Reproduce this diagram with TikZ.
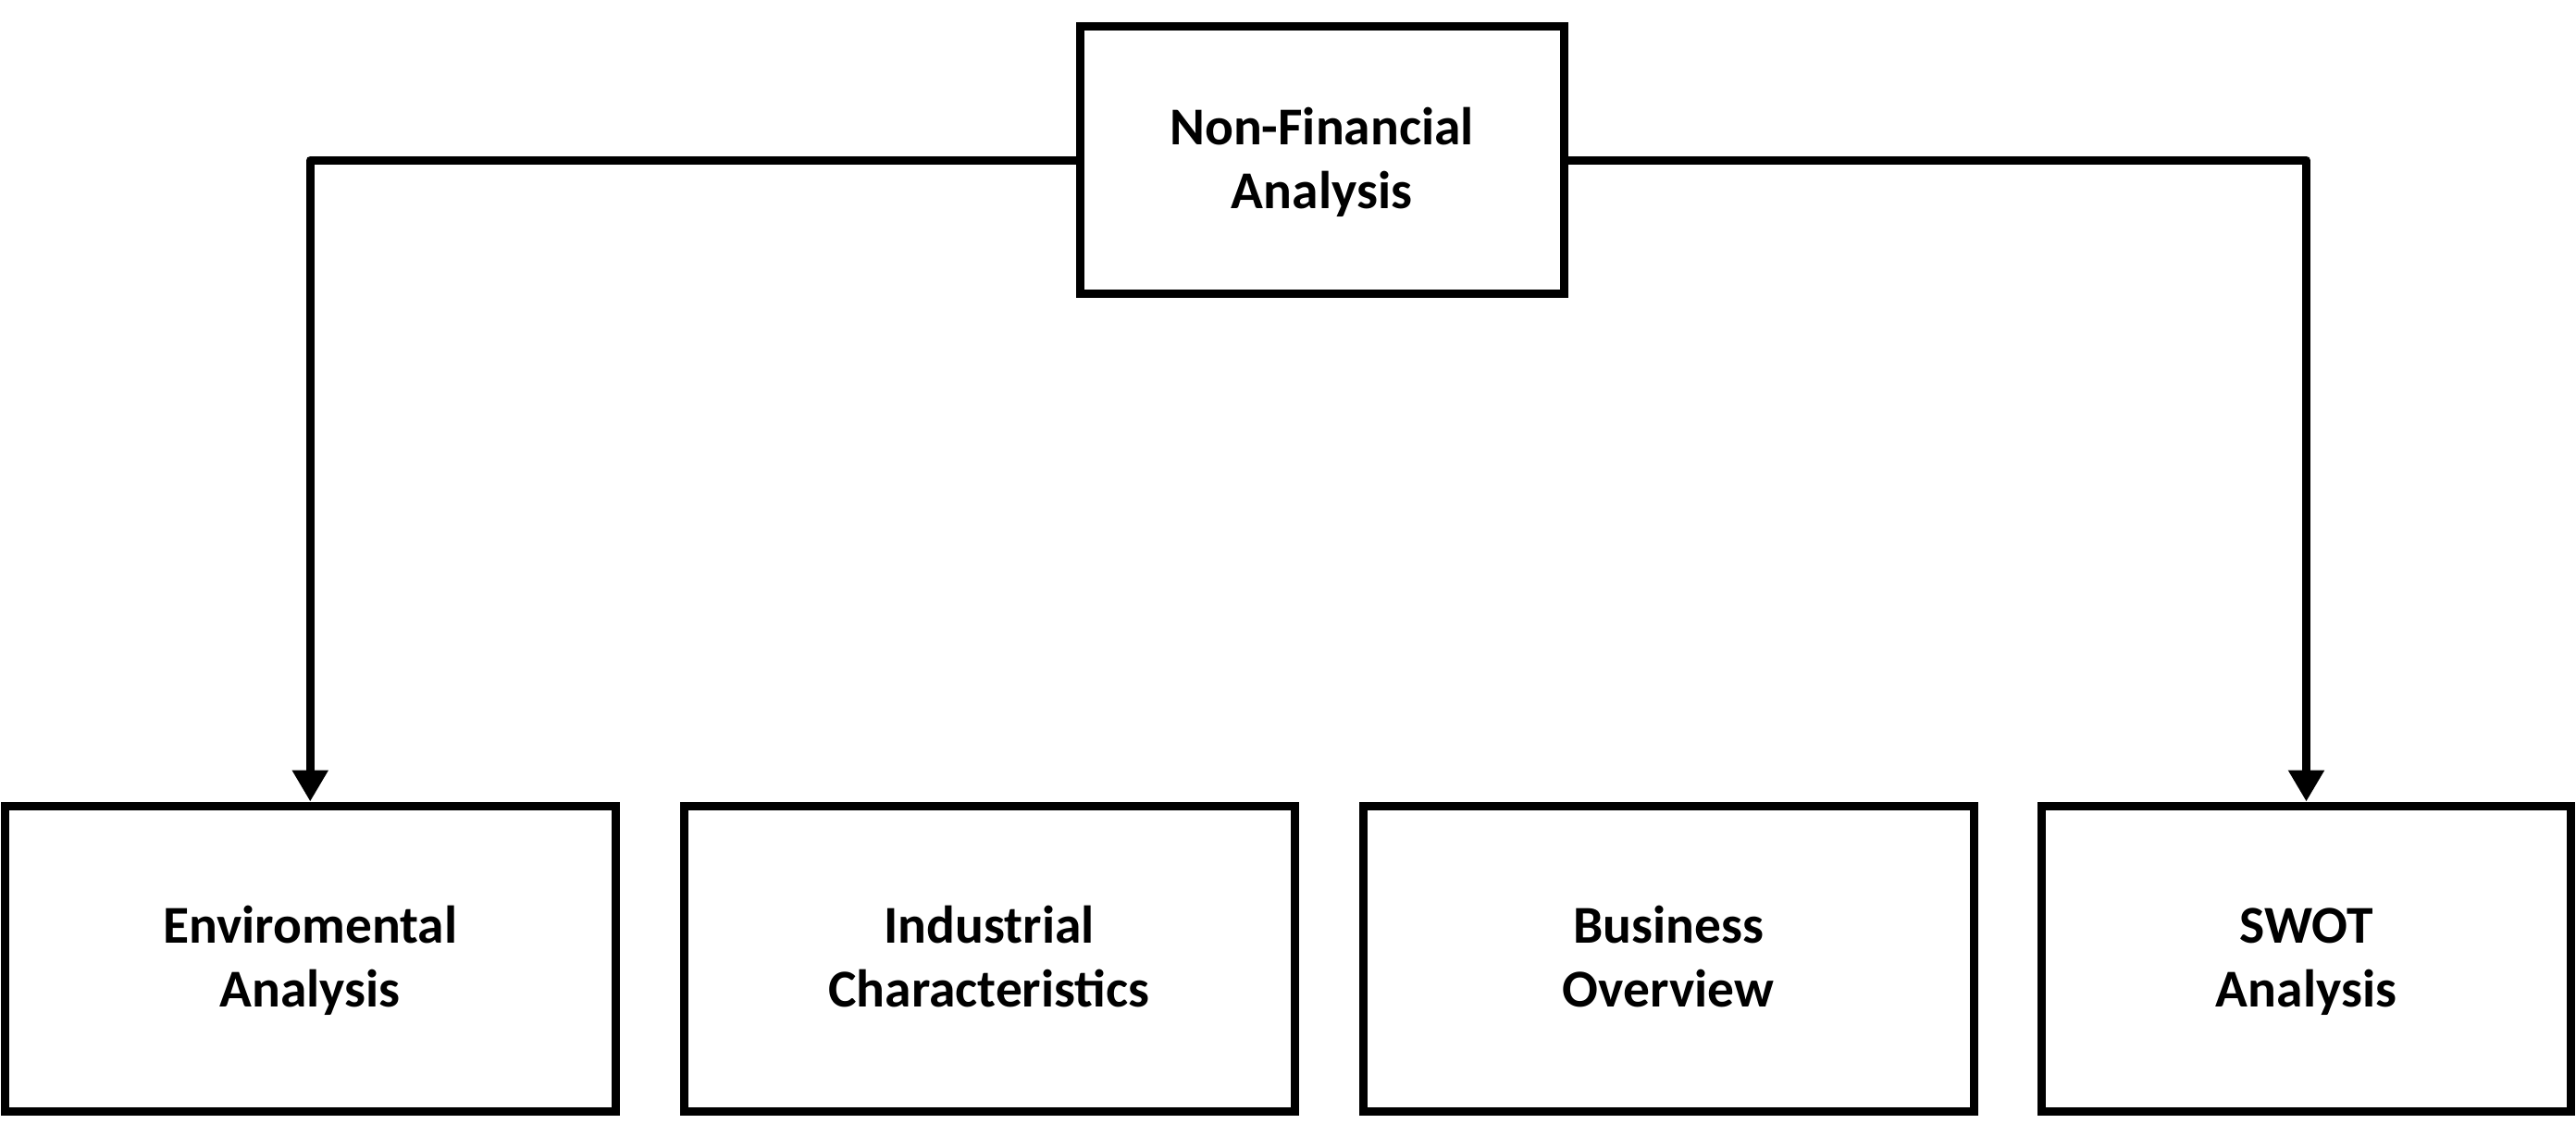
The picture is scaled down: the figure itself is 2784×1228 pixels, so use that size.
\documentclass[tikz,border=0pt]{standalone}
\usepackage{fontspec}
\setmainfont{Carlito}
\usetikzlibrary{arrows.meta}
\newcommand\firststrut{\rule{0pt}{57pt}}
\begin{document}
\begin{tikzpicture}[x=1pt,y=-1pt,
  box/.style={draw=black, line width=9pt, fill=white, align=center,
    font=\fontsize{57.5}{69}\selectfont\bfseries, inner sep=0pt},
  conn/.style={draw=black, line width=9pt, line join=round,
    -{Triangle[width=37pt,length=34pt]}}]
\useasboundingbox[fill=white] (0,0) rectangle (2784,1228);
\node[box, minimum width=523pt, minimum height=288pt] (top) at (1428.5,173) {\firststrut Non-Financial\\Analysis\strut};
\node[box, minimum width=659.5pt, minimum height=330pt] (b1) at (335.25,1036) {\firststrut Enviromental\\Analysis\strut};
\node[box, minimum width=660pt, minimum height=330pt] (b2) at (1069,1036) {\firststrut Industrial\\Characteristics\strut};
\node[box, minimum width=660pt, minimum height=330pt] (b3) at (1803,1036) {\firststrut Business\\Overview\strut};
\node[box, minimum width=572pt, minimum height=330pt] (b4) at (2492.5,1036) {\firststrut SWOT\\Analysis\strut};
\draw[conn] (top.west) -| (b1.north);
\draw[conn] (top.east) -| (b4.north);
\end{tikzpicture}
\end{document}
